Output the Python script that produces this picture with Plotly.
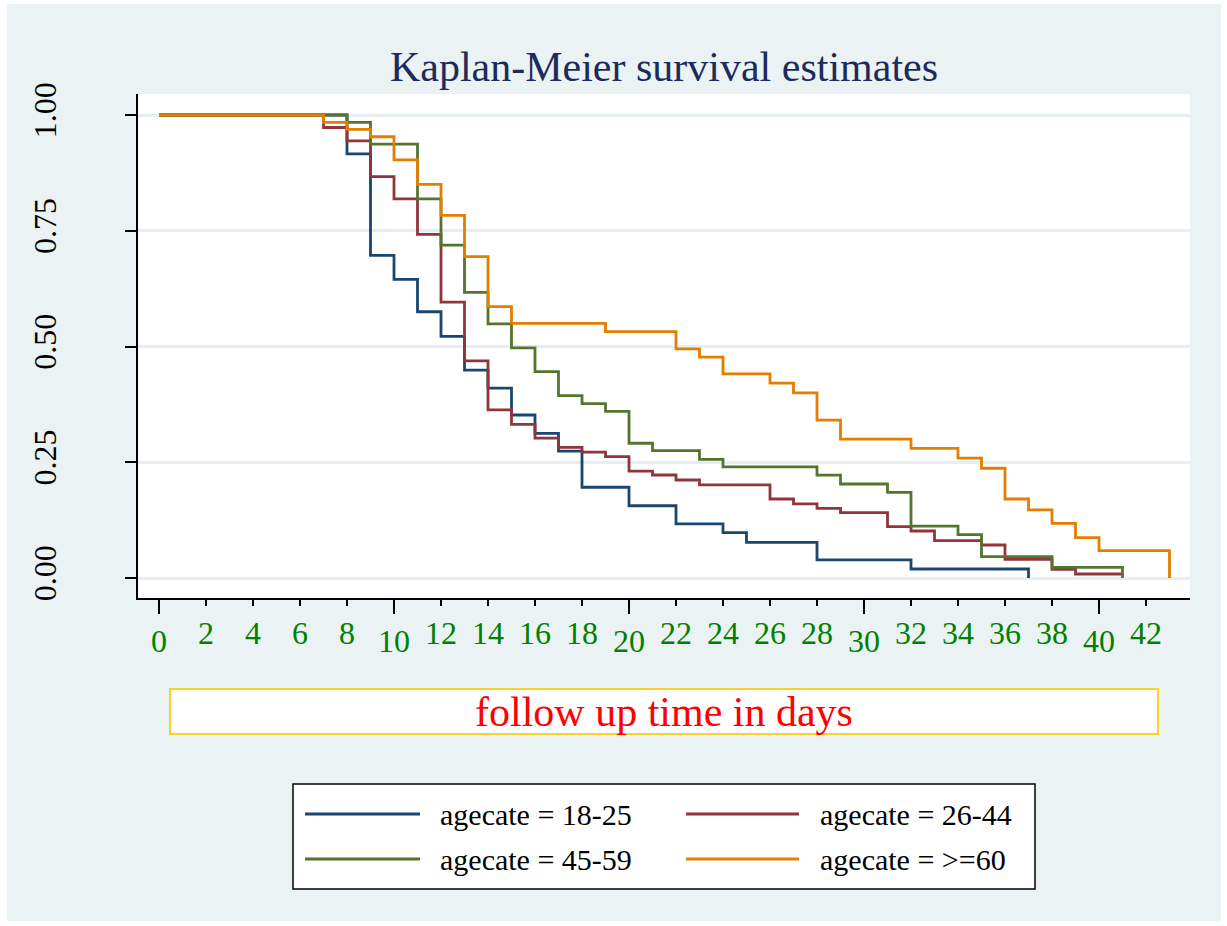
import plotly.graph_objects as go

# ---------------- data ----------------
groups = ["agecate = 18-25", "agecate = 26-44", "agecate = 45-59", "agecate = >=60"]
colors = ["#1A476F", "#90353B", "#55752F", "#E37E00"]

days_1825 = [0, 8, 9, 10, 11, 12, 13, 14, 15, 16, 17, 18, 20, 22, 24, 25, 28, 32, 37]
surv_1825 = [1.0, 0.916, 0.697, 0.645, 0.575, 0.522, 0.449, 0.410, 0.352, 0.3125, 0.274,
             0.196, 0.156, 0.117, 0.098, 0.077, 0.039, 0.0194, 0.0]

days_2644 = [0, 7, 8, 9, 10, 11, 12, 13, 14, 15, 16, 17, 18, 19, 20, 21, 22, 23, 26, 27,
             28, 29, 31, 32, 33, 35, 36, 38, 39, 41]
surv_2644 = [1.0, 0.973, 0.944, 0.867, 0.819, 0.742, 0.596, 0.469, 0.363, 0.332, 0.302,
             0.282, 0.272, 0.262, 0.231, 0.2225, 0.2117, 0.201, 0.1706, 0.160, 0.1505,
             0.141, 0.111, 0.1015, 0.0806, 0.0713, 0.0403, 0.0187, 0.0086, 0.0086]

days_4559 = [0, 8, 9, 11, 12, 13, 14, 15, 16, 17, 18, 19, 20, 21, 23, 24, 28, 29, 31, 32,
             34, 35, 38, 41]
surv_4559 = [1.0, 0.984, 0.937, 0.819, 0.719, 0.617, 0.549, 0.497, 0.4456, 0.394, 0.3765,
             0.360, 0.291, 0.275, 0.256, 0.240, 0.222, 0.203, 0.185, 0.112, 0.0936,
             0.046, 0.023, 0.0]

days_60 = [0, 7, 8, 9, 10, 11, 12, 13, 14, 15, 19, 22, 23, 24, 26, 27, 28, 29, 32, 34, 35,
           36, 37, 38, 39, 40, 43]
surv_60 = [1.0, 0.984, 0.969, 0.953, 0.903, 0.850, 0.783, 0.694, 0.586, 0.550, 0.532,
           0.495, 0.477, 0.441, 0.421, 0.400, 0.341, 0.300, 0.280, 0.259, 0.237, 0.1706,
           0.147, 0.118, 0.087, 0.059, 0.0]

major_ticks = [0, 10, 20, 30, 40]
minor_ticks = [2, 4, 6, 8, 12, 14, 16, 18, 22, 24, 26, 28, 32, 34, 36, 38, 42]
y_ticks = [0.0, 0.25, 0.50, 0.75, 1.0]
y_ticktext = ["0.00", "0.25", "0.50", "0.75", "1.00"]

title_text = "Kaplan-Meier survival estimates"
xtitle_text = "follow up time in days"

# ---------------- layout geometry (pixels) ----------------
W, H = 1227, 926
L, R, T, B = 138, 1190, 94, 598
FONT = "Liberation Serif"


def px(x):
    return (x - L) / (R - L)


def py(y):
    return (B - y) / (B - T)


series_days = [days_1825, days_2644, days_4559, days_60]
series_surv = [surv_1825, surv_2644, surv_4559, surv_60]

fig = go.Figure()
for name, col, d, s in zip(groups, colors, series_days, series_surv):
    fig.add_trace(go.Scatter(
        x=d, y=s, mode="lines", name=name,
        line=dict(color=col, width=2.8, shape="hv"),
        showlegend=False,
    ))
# empty trace for the overlaid minor-tick axis
fig.add_trace(go.Scatter(x=[], y=[], xaxis="x2", showlegend=False, hoverinfo="skip"))

x_range = [(L - 159) / 23.5, (R - 159) / 23.5]
y_range = [-(B - 578) / 463, 1 + (115 - T) / 463]

tickfont = dict(family=FONT, size=32, color="#008000")

shapes = []
# white outer border of the image
for (x0, y0, x1, y1) in [(0, 0, 7, H), (0, 0, W, 4), (W - 6, 0, W, H), (0, H - 5, W, H)]:
    shapes.append(dict(type="rect", xref="paper", yref="paper",
                       x0=px(x0), x1=px(x1), y0=py(y1), y1=py(y0),
                       fillcolor="white", line=dict(width=0), layer="below"))
# x title box
shapes.append(dict(type="rect", xref="paper", yref="paper",
                   x0=px(170), x1=px(1158), y0=py(734), y1=py(689),
                   fillcolor="white", line=dict(color="#F7D22A", width=2)))
# legend box
shapes.append(dict(type="rect", xref="paper", yref="paper",
                   x0=px(293), x1=px(1035), y0=py(889), y1=py(784),
                   fillcolor="white", line=dict(color="black", width=1.5)))

annotations = [
    dict(text=xtitle_text, xref="paper", yref="paper", x=px(664), y=py(712),
         xanchor="center", yanchor="middle", showarrow=False,
         font=dict(family=FONT, size=42, color="#FF0000")),
]

# legend entries (2 columns)
leg_pos = [(305, 420, 438, 814), (686, 799, 818, 814),
           (305, 420, 438, 859), (686, 799, 818, 859)]
for name, col, (lx0, lx1, tx, ly) in zip(groups, colors, leg_pos):
    shapes.append(dict(type="line", xref="paper", yref="paper",
                       x0=px(lx0), x1=px(lx1), y0=py(ly), y1=py(ly),
                       line=dict(color=col, width=3)))
    annotations.append(dict(text=name, xref="paper", yref="paper", x=px(tx), y=py(ly),
                            xanchor="left", yanchor="middle", showarrow=False,
                            font=dict(family=FONT, size=30, color="black")))

fig.update_layout(
    width=W, height=H,
    margin=dict(l=L, r=W - R, t=T, b=H - B, pad=0),
    paper_bgcolor="#EAF2F3",
    plot_bgcolor="white",
    title=dict(text=title_text, x=0.5, xref="paper", xanchor="center",
               y=1 - 66 / H, yref="container", yanchor="middle",
               font=dict(family=FONT, size=42, color="#1C2B59")),
    xaxis=dict(range=x_range, tickmode="array", tickvals=major_ticks,
               ticktext=[str(v) for v in major_ticks],
               ticks="outside", ticklen=14, tickwidth=1.5, tickcolor="black",
               showline=True, linecolor="black", linewidth=1.5,
               showgrid=False, zeroline=False, tickfont=tickfont,
               ticklabelstandoff=0),
    xaxis2=dict(range=x_range, overlaying="x", anchor="y", side="bottom",
                tickmode="array", tickvals=minor_ticks,
                ticktext=[str(v) for v in minor_ticks],
                ticks="outside", ticklen=7, tickwidth=1.5, tickcolor="black",
                showline=False, showgrid=False, zeroline=False, tickfont=tickfont,
                ticklabelstandoff=0),
    yaxis=dict(range=y_range, tickmode="array", tickvals=y_ticks, ticktext=y_ticktext,
               ticks="outside", ticklen=11, tickwidth=1.5, tickcolor="black",
               showline=True, linecolor="black", linewidth=1.5,
               showgrid=True, gridcolor="#E6EEF1", gridwidth=2.5, zeroline=False,
               tickangle=-90, ticklabelstandoff=56,
               tickfont=dict(family=FONT, size=32, color="black")),
    shapes=shapes,
    annotations=annotations,
    showlegend=False,
)

fig.write_html("out.html",
               config={"displayModeBar": False},
               post_script="document.body.style.margin='0';document.body.style.overflow='hidden';")
